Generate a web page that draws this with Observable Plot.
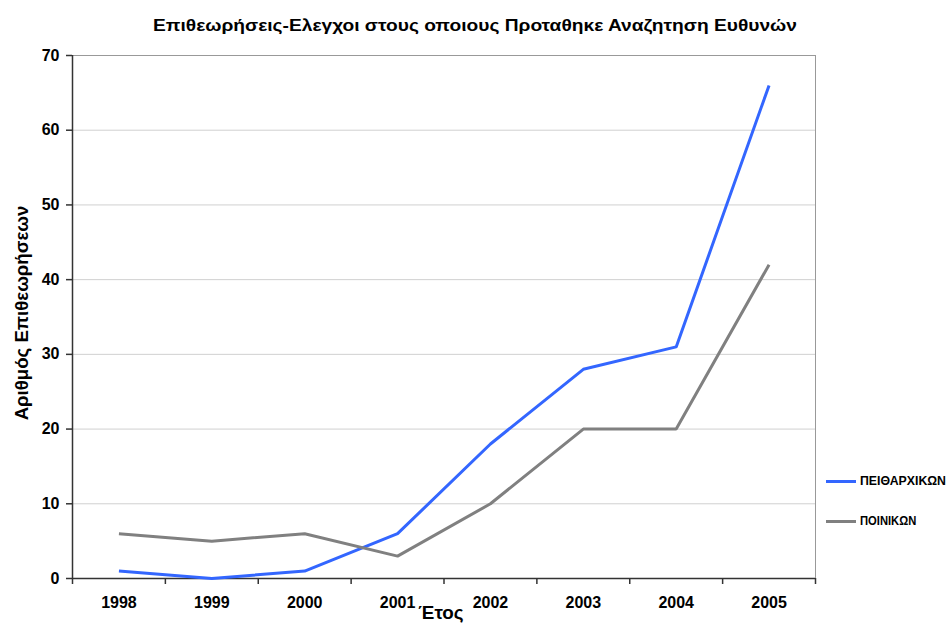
<!DOCTYPE html>
<html><head><meta charset="utf-8">
<script src="https://cdn.jsdelivr.net/npm/d3@7"></script>
<script src="https://cdn.jsdelivr.net/npm/@observablehq/plot@0.6"></script>
<style>
body{margin:0;background:#fff;font-family:"Liberation Sans",Arial,sans-serif;}
#wrap{position:relative;width:948px;height:626px;overflow:hidden;}
#chart{position:absolute;left:0;top:0;}
.t{position:absolute;font-weight:bold;color:#000;white-space:nowrap;display:inline-block;}
#title{left:475px;top:26px;font-size:17px;line-height:18px;}
#xlab{left:441px;top:613px;font-size:18px;line-height:20px;}
#ylab{left:22px;top:313px;font-size:18px;line-height:20px;}
.sw{position:absolute;left:826px;width:30px;height:3px;}
</style></head>
<body><div id="wrap">
<div id="chart"></div>
<div class="t" id="title"></div>
<div class="t" id="xlab">Έτος</div>
<div class="t" id="ylab">Αριθμός Επιθεωρήσεων</div>
<div id="legend"></div>
</div>
<script>
const years = ["1998","1999","2000","2001","2002","2003","2004","2005"];
const seriesNames = ["ΠΕΙΘΑΡΧΙΚΩΝ","ΠΟΙΝΙΚΩΝ"];
const peitharxikon = [1,0,1,6,18,28,31,66];
const poinikon = [6,5,6,3,10,20,20,42];
const yTicks = [0,10,20,30,40,50,60,70];
const colors = ["#3366ff","#808080"];
const titleText = "Επιθεωρήσεις-Ελεγχοι στους οποιους Προταθηκε Αναζητηση Ευθυνών";

document.getElementById("title").textContent = titleText;

const seriesValues = [peitharxikon, poinikon];
const rows = [];
seriesNames.forEach((name, si) => seriesValues[si].forEach((v, i) => rows.push({x: i + 1, v, s: name})));
const centers = years.map((y, i) => i + 1);
const edges = d3.range(0.5, years.length + 1, 1);
const yMax = d3.max(yTicks);

const chart = Plot.plot({
  width: 948, height: 626,
  marginTop: 55, marginBottom: 48, marginLeft: 72, marginRight: 133,
  style: {fontFamily: "Liberation Sans, Arial, sans-serif", fontSize: "16px", fontWeight: "bold", color: "#000", background: "#fff"},
  x: {type: "linear", domain: [0.5, years.length + 0.5]},
  y: {domain: [0, yMax]},
  color: {domain: seriesNames, range: colors},
  marks: [
    Plot.gridY(yTicks.filter(d => d > 0 && d < yMax), {stroke: "#d0d0d0", strokeOpacity: 1}),
    Plot.ruleY([yMax], {stroke: "#999"}),
    Plot.ruleX([years.length + 0.5], {stroke: "#999"}),
    Plot.axisY(yTicks, {tickSize: 6, tickPadding: 7, label: null, stroke: "#333", strokeWidth: 1.5}),
    Plot.axisX(edges, {tickSize: 6, tickFormat: () => "", label: null, stroke: "#333", strokeWidth: 1.5}),
    Plot.axisX(centers, {tickSize: 0, tickPadding: 18, tickFormat: d => years[d - 1], label: null}),
    Plot.ruleX([0.5], {stroke: "#333", strokeWidth: 1.5}),
    Plot.ruleY([0], {stroke: "#333", strokeWidth: 1.5}),
    Plot.line(rows, {x: "x", y: "v", z: "s", stroke: "s", strokeWidth: 3, strokeLinejoin: "miter", strokeLinecap: "butt"})
  ]
});
document.getElementById("chart").appendChild(chart);

const legend = document.getElementById("legend");
const legY = [481, 521];
const legW = [86, 56];
seriesNames.forEach((name, i) => {
  const sw = document.createElement("div");
  sw.className = "sw"; sw.style.top = (legY[i] - 1.5) + "px"; sw.style.background = colors[i];
  legend.appendChild(sw);
  const t = document.createElement("div");
  t.className = "t lg"; t.textContent = name;
  t.style.left = "860px"; t.style.top = (legY[i] - 7) + "px";
  t.style.fontSize = "12px"; t.style.lineHeight = "14px";
  legend.appendChild(t);
  const s = legW[i] / t.offsetWidth;
  t.style.transformOrigin = "0 50%";
  t.style.transform = `scaleX(${s})`;
});

function fit(id, target, rot) {
  const el = document.getElementById(id);
  const s = target / el.offsetWidth;
  el.style.transform = `translate(-50%,-50%)${rot ? " rotate(-90deg)" : ""} scaleX(${s})`;
}
fit("title", 644, false);
fit("xlab", 45, false);
fit("ylab", 215, true);
</script>
</body></html>
